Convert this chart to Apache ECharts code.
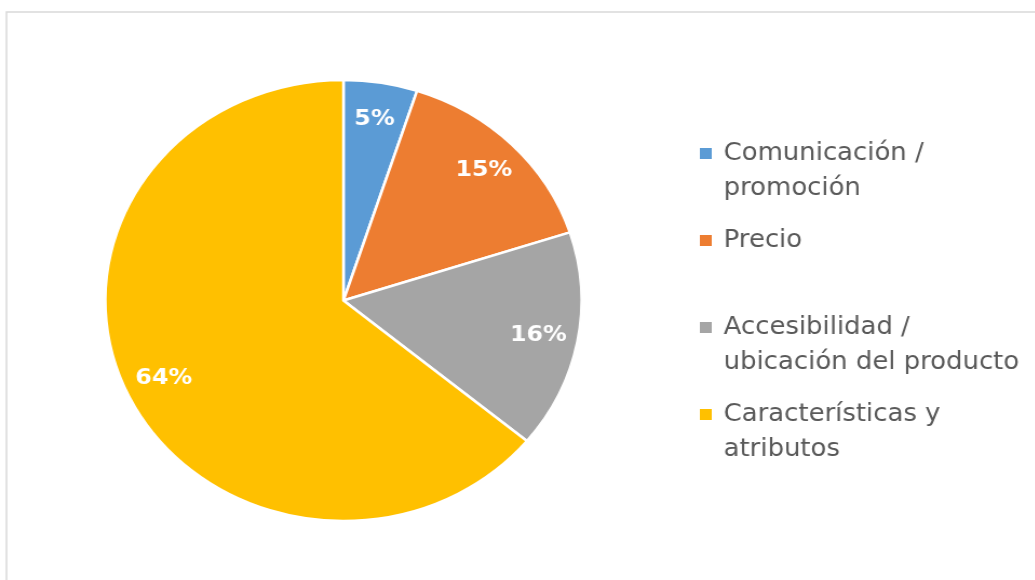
<!DOCTYPE html>
<html>
<head>
<meta charset="utf-8">
<script src="https://cdn.jsdelivr.net/npm/echarts@6/dist/echarts.min.js"></script>
<style>
  html, body { margin: 0; padding: 0; background: #ffffff; overflow: hidden; }
  /* the chart is drawn slightly stretched horizontally */
  #main { width: 958px; height: 580px; transform: scaleX(1.08); transform-origin: 0 0; }
</style>
</head>
<body>
<div id="main"></div>
<script>
// Categories and their shares (%)
const categories = [
  'Comunicación / promoción',
  'Precio',
  'Accesibilidad / ubicación del producto',
  'Características y atributos'
];
const shares = [5, 15, 16, 64];
const colors = ['#5B9BD5', '#ED7D31', '#A5A5A5', '#FFC000'];

// Wrapped legend text for each category
const legendLines = {
  'Comunicación / promoción': ['Comunicación /', 'promoción'],
  'Precio': ['Precio', ' '],
  'Accesibilidad / ubicación del producto': ['Accesibilidad /', 'ubicación del producto'],
  'Características y atributos': ['Características y', 'atributos']
};

const R = 220.5;
const center = [318, 300.5];

const pieData = categories.map((name, i) => ({
  name: name,
  value: shares[i],
  itemStyle: { color: colors[i] }
}));

const chart = echarts.init(document.getElementById('main'), null, { renderer: 'canvas' });

chart.setOption({
  animation: false,
  backgroundColor: '#ffffff',
  graphic: [{
    type: 'rect',
    shape: { x: 6, y: 12, width: 1000, height: 620 },
    style: { fill: 'none', stroke: '#d9d9d9', lineWidth: 1.5 },
    silent: true,
    z: -10
  }],
  legend: {
    orient: 'vertical',
    left: 648,
    top: 101,
    padding: 0,
    itemGap: -18,
    itemWidth: 11,
    itemHeight: 11,
    icon: 'rect',
    itemStyle: { borderWidth: 0 },
    data: categories,
    formatter: name => ' \n' + legendLines[name].join('\n'),
    textStyle: {
      fontFamily: 'DejaVu Sans',
      fontSize: 24,
      color: '#595959',
      lineHeight: 35,
      padding: [0, 0, 0, 6]
    }
  },
  series: [
    {
      name: 'sectores',
      type: 'pie',
      center: center,
      radius: [0, R],
      startAngle: 90,
      clockwise: true,
      label: { show: false },
      labelLine: { show: false },
      itemStyle: { borderColor: '#ffffff', borderWidth: 2.5 },
      data: pieData
    },
    {
      // invisible ring that carries the percentage labels near the rim
      name: 'etiquetas',
      type: 'pie',
      center: center,
      radius: [R * 0.64, R],
      startAngle: 90,
      clockwise: true,
      silent: true,
      itemStyle: { color: 'rgba(0,0,0,0)', borderWidth: 0 },
      label: {
        show: true,
        position: 'inside',
        formatter: '{c}%',
        color: '#ffffff',
        fontFamily: 'DejaVu Sans',
        fontWeight: 'bold',
        fontSize: 22
      },
      labelLine: { show: false },
      data: categories.map((name, i) => ({ name: name, value: shares[i] }))
    }
  ]
});
</script>
</body>
</html>
